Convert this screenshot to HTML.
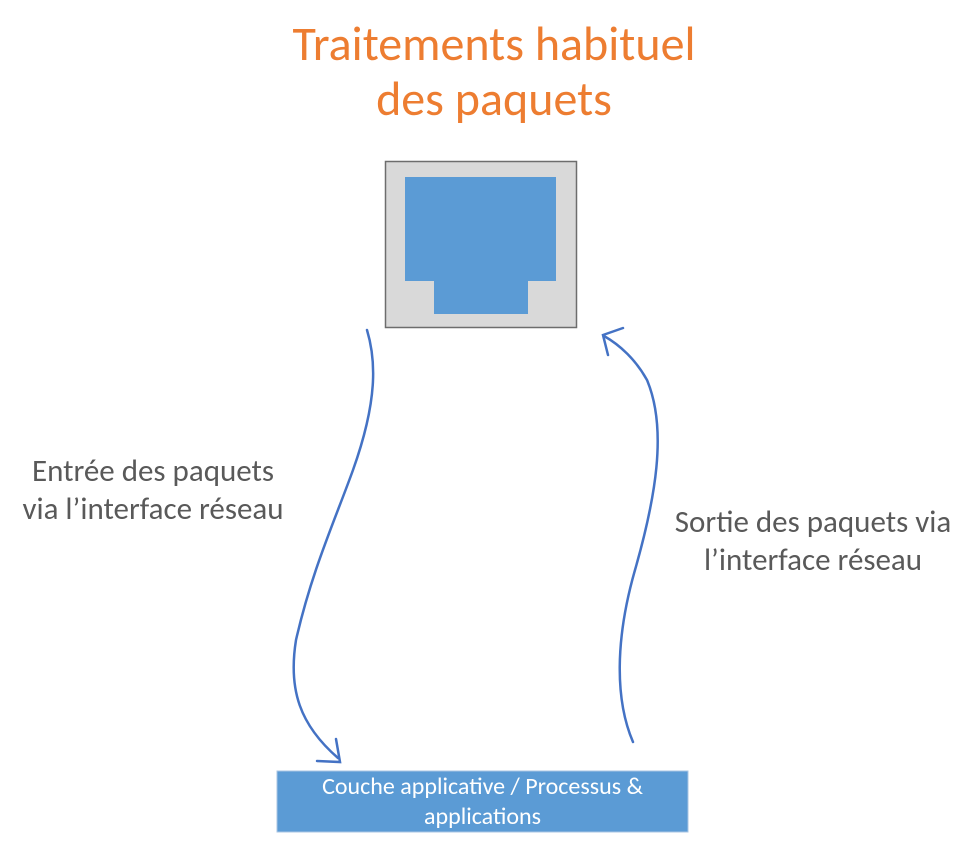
<!DOCTYPE html>
<html><head><meta charset="utf-8"><style>
body{margin:0;width:979px;height:843px;background:#fff;position:relative;overflow:hidden;font-family:"Calibri","Liberation Sans",sans-serif}
.t{position:absolute;white-space:nowrap}
</style></head><body>
<div class="t" style="left:0;width:988px;top:16px;text-align:center;color:#ED7D31;font-size:48px;line-height:55px">Traitements habituel<br>des paquets</div>
<div class="t" style="left:0;width:306px;top:452px;text-align:center;color:#595959;font-size:31px;line-height:38px">Entrée des paquets<br>via l’interface réseau</div>
<div class="t" style="left:662px;width:302px;top:503px;text-align:center;color:#595959;font-size:31px;line-height:38px">Sortie des paquets via<br>l’interface réseau</div>
<svg width="979" height="843" style="position:absolute;left:0;top:0">
<rect x="385.5" y="161.5" width="191" height="166" fill="#d9d9d9" stroke="#6d6d6d" stroke-width="1.5"/>
<path d="M405 177H556V281H528V314H434V281H405Z" fill="#5b9bd5"/>
<rect x="277" y="771" width="411" height="61" fill="#5b9bd5" stroke="#a9c6e3" stroke-width="1"/>
<g fill="none" stroke="#4472c4" stroke-width="2.5" stroke-linecap="round">
<path d="M367 330C376 360 378 400 353 470C335 520 312 570 296 640C288 690 300 725 338 758"/>
<path d="M317 761L340 762L336 739"/>
<path d="M633 742C615 700 615 640 635 570C655 500 668 430 647 380C636 360 620 345 604 336"/>
<path d="M623 328L603 335L608 355"/>
</g>
</svg>
<div class="t" style="left:277px;width:411px;top:772px;text-align:center;color:#fff;font-size:24px;line-height:30px">Couche applicative / Processus &amp;<br>applications</div>
</body></html>
